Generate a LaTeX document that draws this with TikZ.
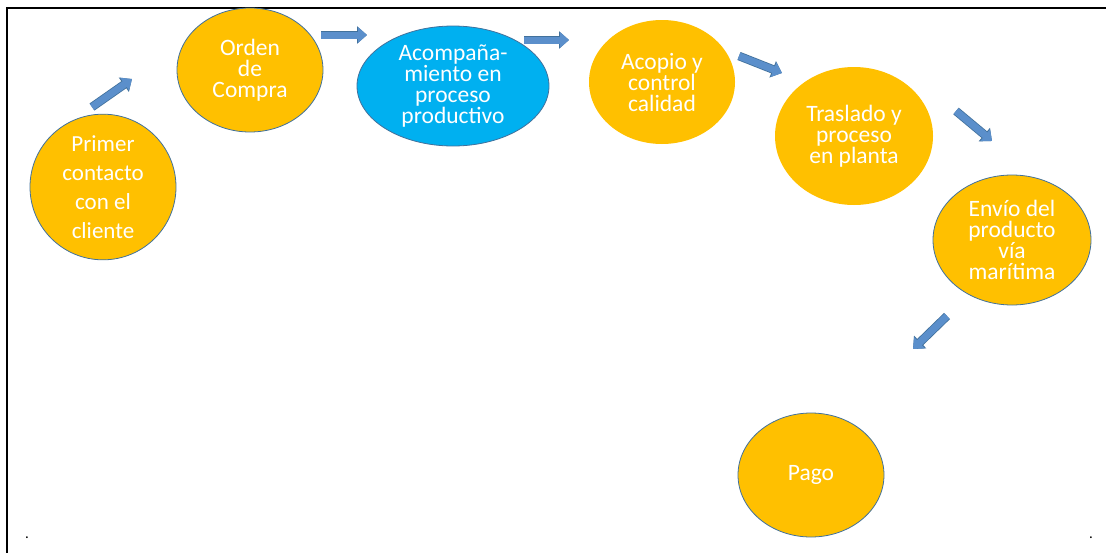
\documentclass[tikz,border=0pt]{standalone}
\usepackage{fontspec}
\setmainfont{Carlito}
\usetikzlibrary{shapes.geometric,arrows.meta}

\definecolor{stepgold}{HTML}{FFC000}
\definecolor{stepblue}{HTML}{00B0F0}
\definecolor{stepedge}{HTML}{41719C}
\definecolor{arrowfill}{HTML}{5B8FCB}

\tikzset{
  stage/.style={ellipse, fill=stepgold, inner sep=0pt, align=center,
    text=white, font=\fontsize{23.5}{21}\selectfont},
  outlined/.style={draw=stepedge, line width=0.8pt},
  arrowedge/.style={draw=stepedge, line width=8.6pt,
    -{Triangle[width=17pt,length=10pt]}},
  arrowbody/.style={draw=arrowfill, line width=7pt,
    -{Triangle[width=15pt,length=9pt]}},
  frameline/.style={line width=2pt, line cap=rect},
  pagedot/.style={inner sep=0pt, anchor=base, font=\fontsize{15}{15}\selectfont}
}

\newcommand\flowarrow[2]{%
  \draw[arrowedge] (#1) -- (#2);
  \draw[arrowbody] (#1) -- (#2);}

\begin{document}
\begin{tikzpicture}[x=1pt,y=1pt]
  \useasboundingbox (0,0) rectangle (1106,-552);
  \fill[white] (0,0) rectangle (1106,-552);

  % page frame (top and left edges)
  \draw[frameline] (1106,-7.5) -- (6.5,-7.5) -- (6.5,-552);

  % process stages
  \node[stage, outlined, minimum width=146pt, minimum height=124pt,
        font=\fontsize{23}{29}\selectfont] (s1) at (103,-187)
        {Primer\\contacto\\con el\\cliente};
  \node[stage, outlined, minimum width=146pt, minimum height=124pt] (s2) at (250,-70)
        {Orden\\de\\Compra};
  \node[stage, outlined, fill=stepblue, minimum width=192pt, minimum height=120pt] (s3) at (453,-86)
        {Acompaña-\\miento en\\proceso\\productivo};
  \node[stage, minimum width=146pt, minimum height=124pt] (s4) at (662,-82)
        {Acopio y\\control\\calidad};
  \node[stage, minimum width=158pt, minimum height=138pt] (s5) at (854,-136)
        {Traslado y\\proceso\\en planta};
  \node[stage, outlined, minimum width=158pt, minimum height=130pt] (s6) at (1012,-240)
        {Envío del\\producto\\vía\\marítima};
  \node[stage, outlined, minimum width=146pt, minimum height=124pt] (s7) at (811,-475)
        {Pago};

  % block arrows between the stages
  \coordinate (t1) at (92,-107);  \coordinate (h1) at (132,-79);
  \coordinate (t2) at (321,-35);  \coordinate (h2) at (367,-35);
  \coordinate (t3) at (524,-40);  \coordinate (h3) at (569,-40);
  \coordinate (t4) at (739,-56);  \coordinate (h4) at (782,-73);
  \coordinate (t5) at (956,-111); \coordinate (h5) at (992,-141);
  \coordinate (t6) at (947,-316); \coordinate (h6) at (913,-349);
  \flowarrow{t1}{h1}
  \flowarrow{t2}{h2}
  \flowarrow{t3}{h3}
  \flowarrow{t4}{h4}
  \flowarrow{t5}{h5}
  \flowarrow{t6}{h6}

  % stray paragraph marks at the bottom corners
  \node[pagedot] (d1) at (27,-538) {.};
  \node[pagedot] (d2) at (1091,-538) {.};
\end{tikzpicture}
\end{document}
